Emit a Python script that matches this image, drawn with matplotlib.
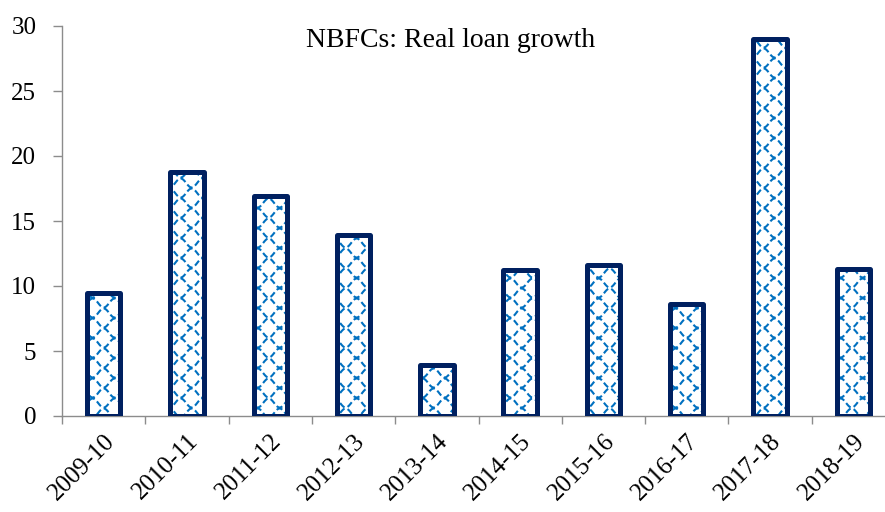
"""NBFCs: real loan growth, bar chart with wavy hatch."""
import numpy as np
import matplotlib

matplotlib.use("Agg")
import matplotlib.pyplot as plt
from matplotlib.collections import LineCollection

years = ["2009-10", "2010-11", "2011-12", "2012-13", "2013-14",
         "2014-15", "2015-16", "2016-17", "2017-18", "2018-19"]
growth = [9.5, 18.8, 16.9, 13.9, 3.9, 11.2, 11.6, 8.6, 29.0, 11.3]

EDGE = "#002060"
HATCH = "#0070C0"
AXIS = "#8c8c8c"
FONT = "Liberation Serif"

W, H = 885, 512
fig = plt.figure(figsize=(W / 100, H / 100), dpi=100)
# axes runs a little past the right edge, as in the source
ax = fig.add_axes([62 / W, 96 / H, 833 / W, 390 / H])

x = np.arange(len(years))
bars = ax.bar(x, growth, width=0.4, facecolor="none", edgecolor=EDGE,
              linewidth=3.6, joinstyle="round", zorder=3)

ax.set_xlim(-0.5, len(years) - 0.5)
ax.set_ylim(0, 30)

# wavy "scale" hatch, drawn in pixel units and clipped to each bar
px_x = 833 / len(years)      # pixels per x unit
px_y = 390 / 30              # pixels per y unit
period, amp, row = 22.0, 4.5, 10.0
for b in bars:
    x0, x1 = b.get_x(), b.get_x() + b.get_width()
    top = b.get_height()
    xs = np.linspace(x0 - 0.05, x1 + 0.05, 80)
    segs = []
    nrows = int(top * px_y / row) + 2
    for r in range(nrows):
        phase = np.pi * (r % 2)
        ys = (r * row + 3 + amp * np.cos(2 * np.pi * (xs * px_x) / period + phase)) / px_y
        segs.append(np.column_stack([xs, ys]))
    lc = LineCollection(segs, colors=HATCH, linewidths=1.5,
                        linestyles=(0, (3.0, 1.5)), zorder=2)
    ax.add_collection(lc)
    lc.set_clip_path(b)

for side in ("top", "right"):
    ax.spines[side].set_visible(False)
for side in ("left", "bottom"):
    ax.spines[side].set_color(AXIS)
    ax.spines[side].set_linewidth(1.0)

ax.set_yticks(range(0, 31, 5))
ax.tick_params(axis="y", direction="out", length=6.5, width=1, color=AXIS,
               pad=12, labelsize=18)
ax.set_xticks(x)
ax.set_xticklabels(years, rotation=45, ha="right", rotation_mode="anchor")
ax.set_xticks(np.arange(-0.5, len(years), 1.0), minor=True)
ax.tick_params(axis="x", which="major", length=0, pad=10, labelsize=18)
ax.tick_params(axis="x", which="minor", direction="out", length=6, width=1,
               color=AXIS)
for lab in ax.get_xticklabels() + ax.get_yticklabels():
    lab.set_fontfamily(FONT)

ax.text(0.466, 0.964, "NBFCs: Real loan growth", transform=ax.transAxes,
        ha="center", va="center", fontsize=20, family=FONT)

fig.savefig("out.png", dpi=100)
